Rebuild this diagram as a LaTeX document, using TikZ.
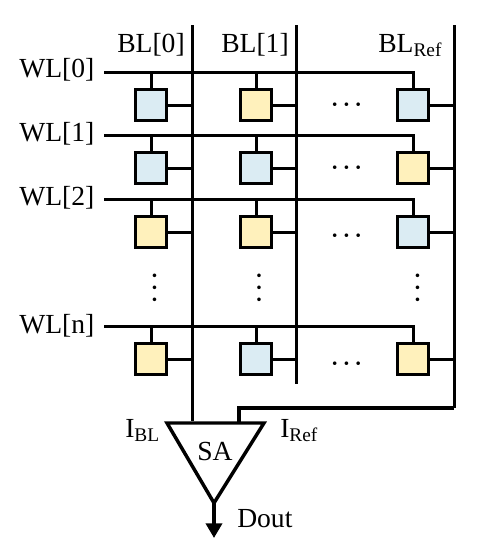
\documentclass[tikz,border=0pt]{standalone}
\usepackage{fontspec}
\setmainfont{Liberation Serif}
\usetikzlibrary{arrows.meta, positioning}
\definecolor{cellblue}{RGB}{219,236,243}
\definecolor{cellyellow}{RGB}{255,241,188}
\tikzset{
    cell/.style={draw, line width=2.25pt, minimum size=23.25pt, inner sep=0pt, outer sep=0pt},
    bluecell/.style={cell, fill=cellblue},
    yellowcell/.style={cell, fill=cellyellow},
    wire/.style={line width=2.25pt},
    lbl/.style={inner sep=0pt, anchor=base west, font=\fontsize{20.7}{24}\selectfont},
    hdots/.style={inner sep=0pt, font=\fontsize{17.6}{24}\selectfont\boldmath},
    vdotsnode/.style={hdots, rotate=90}
}

\begin{document}
\begin{tikzpicture}[x=0.75pt, y=-0.75pt]
    \useasboundingbox (0,0) rectangle (477,554);

    % ends of the lines
    \coordinate (wl0) at (104,72);
    \coordinate (wl1) at (104,135);
    \coordinate (wl2) at (104,199);
    \coordinate (wln) at (104,326);
    \coordinate (bl0top) at (192,25);
    \coordinate (bl0bot) at (192,421);
    \coordinate (bl1top) at (296,25);
    \coordinate (bl1bot) at (296,384);
    \coordinate (blrtop) at (454,25);
    \coordinate (blrbot) at (454,408);

    % cells, row 0
    \node[bluecell] (c00) at (151,105) {};
    \node[yellowcell] (c01) at (256,105) {};
    \node[bluecell] (c02) at (413,105) {};
    % row 1
    \node[bluecell] (c10) at (151,168) {};
    \node[bluecell] (c11) at (256,168) {};
    \node[yellowcell] (c12) at (413,168) {};
    % row 2
    \node[yellowcell] (c20) at (151,232) {};
    \node[yellowcell] (c21) at (256,232) {};
    \node[bluecell] (c22) at (413,232) {};
    % row n
    \node[yellowcell] (c30) at (151,359) {};
    \node[bluecell] (c31) at (256,359) {};
    \node[yellowcell] (c32) at (413,359) {};

    % bit lines
    \draw[wire] (bl0top) -- (bl0bot);
    \draw[wire] (bl1top) -- (bl1bot);
    \draw[wire] (blrtop) -- (blrbot);

    % word lines
    \draw[wire] (wl0) -| (c02.north);
    \draw[wire] (wl1) -| (c12.north);
    \draw[wire] (wl2) -| (c22.north);
    \draw[wire] (wln) -| (c32.north);

    % WL[0] stubs
    \draw[wire] (c00.north |- wl0) -- (c00.north);
    \draw[wire] (c01.north |- wl0) -- (c01.north);
    \draw[wire] (c00.east) -- (c00.east -| bl0top);
    \draw[wire] (c01.east) -- (c01.east -| bl1top);
    \draw[wire] (c02.east) -- (c02.east -| blrtop);
    % WL[1] stubs
    \draw[wire] (c10.north |- wl1) -- (c10.north);
    \draw[wire] (c11.north |- wl1) -- (c11.north);
    \draw[wire] (c10.east) -- (c10.east -| bl0top);
    \draw[wire] (c11.east) -- (c11.east -| bl1top);
    \draw[wire] (c12.east) -- (c12.east -| blrtop);
    % WL[2] stubs
    \draw[wire] (c20.north |- wl2) -- (c20.north);
    \draw[wire] (c21.north |- wl2) -- (c21.north);
    \draw[wire] (c20.east) -- (c20.east -| bl0top);
    \draw[wire] (c21.east) -- (c21.east -| bl1top);
    \draw[wire] (c22.east) -- (c22.east -| blrtop);
    % WL[n] stubs
    \draw[wire] (c30.north |- wln) -- (c30.north);
    \draw[wire] (c31.north |- wln) -- (c31.north);
    \draw[wire] (c30.east) -- (c30.east -| bl0top);
    \draw[wire] (c31.east) -- (c31.east -| bl1top);
    \draw[wire] (c32.east) -- (c32.east -| blrtop);

    % labels
    \node[lbl] (wl0txt) at (19,77) {WL[0]};
    \node[lbl] (wl1txt) at (19,141.5) {WL[1]};
    \node[lbl] (wl2txt) at (19,205) {WL[2]};
    \node[lbl] (wlntxt) at (19,333) {WL[n]};
    \node[lbl] (bl0txt) at (117,52) {BL[0]};
    \node[lbl] (bl1txt) at (221,52) {BL[1]};
    \node[lbl] (blrtxt) at (378,52) {BL\textsubscript{Ref}};

    % dots
    \node[hdots] (d0) at (346.5,105) {$\cdots$};
    \node[hdots] (d1) at (346.5,168.5) {$\cdots$};
    \node[hdots] (d2) at (346.5,236.5) {$\cdots$};
    \node[hdots] (d3) at (346.5,364.5) {$\cdots$};
    \node[vdotsnode] (v0) at (155,288) {$\cdots$};
    \node[vdotsnode] (v1) at (259.5,288) {$\cdots$};
    \node[vdotsnode] (v2) at (418,288) {$\cdots$};

    % sense amplifier
    \coordinate (sal) at (167,423);
    \coordinate (sar) at (264,423);
    \coordinate (sab) at (214,503);
    \coordinate (saref) at (239,423);
    \coordinate (dout) at (214,538);
    \draw[line width=2.6pt, line join=miter] (sal) -- (sar) -- (sab) -- cycle;
    \draw[line width=2.4pt] (saref) |- (blrbot);
    \draw[line width=3.4pt, -{Triangle[length=11pt, width=12pt]}] (sab) -- (dout);
    \node[lbl] (satxt) at (197,460) {SA};
    \node[lbl] (ibltxt) at (125,437) {I\textsubscript{BL}};
    \node[lbl] (ireftxt) at (280,437) {I\textsubscript{Ref}};
    \node[lbl] (douttxt) at (237,527) {Dout};
\end{tikzpicture}
\end{document}
